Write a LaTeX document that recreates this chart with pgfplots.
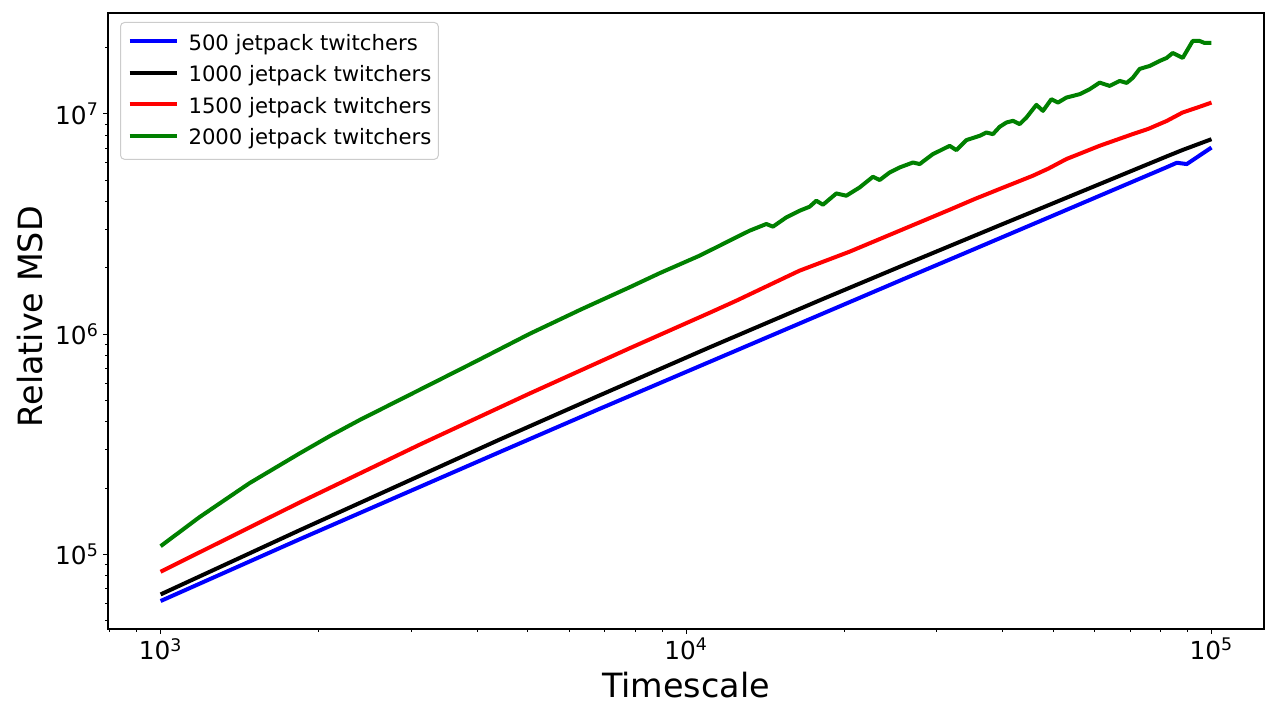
\documentclass[border=0pt]{standalone}
\usepackage{fontspec}
\setmainfont{DejaVu Sans}
\usepackage{pgfplots}
\pgfplotsset{compat=1.18}
\definecolor{mplgreen}{RGB}{0,128,0}
\definecolor{mplblue}{RGB}{0,0,255}
\definecolor{mplred}{RGB}{255,0,0}
\begin{document}
\begin{tikzpicture}
\begin{axis}[
  xmode=log, ymode=log,
  scale only axis, width=578pt, height=308pt,
  xmin=794.3, xmax=125893,
  ymin=45814, ymax=28710000,
  xtick={1000,10000,100000},
  xticklabels={10\textsuperscript{3},10\textsuperscript{4},10\textsuperscript{5}},
  ytick={100000,1000000,10000000},
  yticklabels={10\textsuperscript{5},10\textsuperscript{6},10\textsuperscript{7}},
  minor xtick={800,900,2000,3000,4000,5000,6000,7000,8000,9000,20000,30000,40000,50000,60000,70000,80000,90000},
  minor ytick={50000,60000,70000,80000,90000,200000,300000,400000,500000,600000,700000,800000,900000,2000000,3000000,4000000,5000000,6000000,7000000,8000000,9000000,20000000},
  xtick pos=bottom, ytick pos=left,
  tick align=outside,
  major tick length=2.4pt, minor tick length=1.4pt,
  every major tick/.style={black, line width=0.55pt},
  every minor tick/.style={black, line width=0.42pt},
  axis line style={black, line width=0.55pt},
  ticklabel style={font=\fontsize{12.4}{14}\selectfont},
  xticklabel style={inner sep=0pt, yshift=-2pt},
  yticklabel style={inner sep=0pt, xshift=-2pt},
  xlabel={Timescale}, ylabel={Relative MSD},
  label style={font=\fontsize{16.7}{20}\selectfont, inner sep=0pt},
  xlabel style={at={(axis description cs:0.5,-0.1104)}, anchor=base},
  ylabel style={at={(axis description cs:-0.0571,0.507)}, anchor=base, rotate=0},
  legend style={at={(0,1)}, anchor=north west, xshift=6pt, yshift=-4.5pt,
    draw=black!20, line width=0.5pt, rounded corners=2pt, fill=white,
    font=\fontsize{10.6}{12.7}\selectfont, inner xsep=3.5pt, inner ysep=5.8pt,
    row sep=6.2pt, column sep=5pt, nodes={inner sep=0pt}},
  legend cell align=left,
  legend image code/.code={\draw[#1] (0pt,1.1pt) -- (23.5pt,1.1pt);},
  every axis plot/.append style={line width=2pt, line join=round},
]
\addplot[mplblue] coordinates {
(1000,61380) (1841,117200) (4416,291100) (6761,451900) (11092,748200)
(20464,1396000) (26303,1803000) (34198,2350000) (39537,2723000) (45709,3155000)
(52966,3664000) (61235,4246000) (70795,4920000) (82224,5728000) (85901,5998000)
(89743,5916000) (100000,7031000)
};
\addlegendentry{500 jetpack twitchers}
\addplot[black] coordinates {
(1000,65770) (1841,128800) (4416,331900) (6761,520000) (11092,871000)
(18197,1442000) (25527,2023000) (39537,3119000) (45709,3597000) (52966,4159000)
(61235,4797000) (70795,5534000) (82224,6412000) (88105,6855000) (100000,7674000)
};
\addlegendentry{1000 jetpack twitchers}
\addplot[mplred] coordinates {
(1000,83370) (1841,172200) (3112,314800) (5035,537000) (7816,863000)
(11092,1250000) (12474,1419000) (16444,1941000) (20464,2366000) (25527,2951000)
(31769,3673000) (35481,4111000) (39537,4560000) (45709,5236000) (48978,5649000)
(52966,6237000) (61235,7161000) (70795,8091000) (75858,8551000) (82224,9290000)
(88105,10140000) (94406,10720000) (100000,11250000)
};
\addlegendentry{1500 jetpack twitchers}
\addplot[mplgreen] coordinates {
(1000,108900) (1186,147600) (1476,210400) (1841,287700) (2099,344400)
(2393,407400) (3251,588800) (3981,751600) (5035,1002000) (6310,1294000)
(7816,1633000) (8913,1892000) (10615,2271000) (11588,2521000) (12283,2704000)
(13216,2949000) (14217,3162000) (14635,3075000) (15520,3388000) (16451,3633000)
(17187,3788000) (17701,4033000) (18222,3868000) (19324,4352000) (20188,4249000)
(21399,4634000) (22683,5181000) (23362,5006000) (24406,5419000) (25498,5710000)
(27033,6015000) (27836,5916000) (29506,6567000) (30389,6797000) (31748,7160000)
(32690,6846000) (34160,7600000) (36210,7949000) (37293,8227000) (38381,8091000)
(39530,8732000) (40703,9133000) (41901,9297000) (43144,8981000) (44435,9619000)
(46422,10985000) (47788,10318000) (49582,11657000) (51030,11251000) (52945,11855000)
(56122,12283000) (58645,12942000) (61268,13865000) (64008,13394000) (66886,14112000)
(68966,13820000) (70795,14555000) (72999,15996000) (76282,16505000) (79693,17390000)
(82171,17944000) (84376,18902000) (88150,17944000) (92092,21424000) (94956,21424000)
(97056,20980000) (100000,20980000)
};
\addlegendentry{2000 jetpack twitchers}
\coordinate (bbsw) at (rel axis cs:0,0);
\coordinate (bbne) at (rel axis cs:1,1);
\end{axis}
\pgfresetboundingbox
\useasboundingbox ([xshift=-54pt,yshift=-37.5pt]bbsw) rectangle ([xshift=2pt,yshift=6.5pt]bbne);
\end{tikzpicture}
\end{document}
